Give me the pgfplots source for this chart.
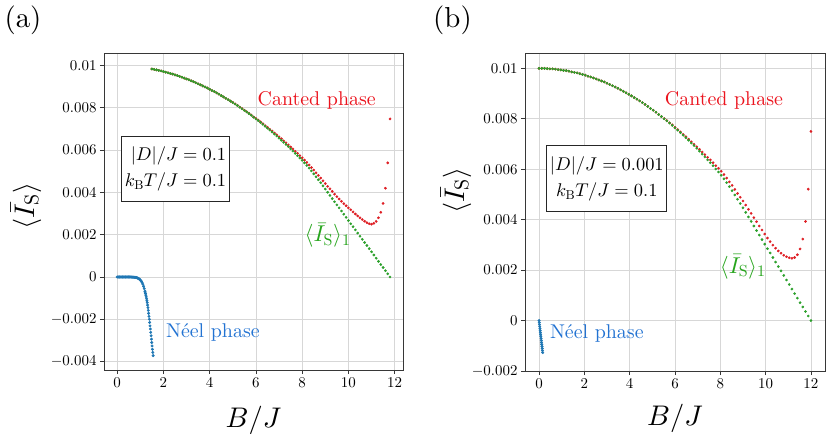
\documentclass[border=0pt]{standalone}
\providecommand\UnicodeFontFile[2]{"[#1]:#2"}
\providecommand\UnicodeFontTeXLigatures{mapping=tex-text;}
\DeclareFontShape{TU}{lmr}{m}{n}{<->\UnicodeFontFile{lmroman10-regular}{\UnicodeFontTeXLigatures}}{}
\DeclareFontFamily{OT1}{cmr}{\hyphenchar\font45 }
\DeclareFontShape{OT1}{cmr}{m}{n}{<->cmr10}{}
\DeclareFontShape{OML}{cmm}{m}{it}{<->cmmi10}{}
\DeclareFontShape{OMS}{cmsy}{m}{n}{<->cmsy10}{}
\DeclareFontShape{OMX}{cmex}{m}{n}{<->cmex10}{}
\usepackage{pgfplots}
\usepackage{pgfplotstable}
\pgfplotsset{compat=1.18}
\definecolor{cred}{RGB}{222,30,36}
\definecolor{tred}{RGB}{235,20,30}
\definecolor{cgreen}{RGB}{44,160,44}
\definecolor{tgreen}{RGB}{40,165,30}
\definecolor{cblue}{RGB}{31,119,180}
\definecolor{tblue}{RGB}{35,115,210}
\definecolor{gridc}{RGB}{215,215,215}
\definecolor{framec}{RGB}{55,55,55}

\pgfplotstableread{
B G R
1.5 0.00984 0.00984
1.6 0.00982 0.00982
1.7 0.00980 0.00980
1.8 0.00977 0.00977
1.9 0.00975 0.00975
2.0 0.00972 0.00972
2.1 0.00969 0.00969
2.2 0.00966 0.00966
2.3 0.00963 0.00963
2.4 0.00960 0.00960
2.5 0.00956 0.00956
2.6 0.00953 0.00953
2.7 0.00949 0.00949
2.8 0.00945 0.00945
2.9 0.00941 0.00941
3.0 0.00937 0.00937
3.1 0.00933 0.00933
3.2 0.00928 0.00928
3.3 0.00924 0.00924
3.4 0.00919 0.00919
3.5 0.00914 0.00914
3.6 0.00909 0.00909
3.7 0.00904 0.00904
3.8 0.00899 0.00899
3.9 0.00894 0.00894
4.0 0.00888 0.00888
4.1 0.00882 0.00882
4.2 0.00877 0.00877
4.3 0.00871 0.00871
4.4 0.00865 0.00865
4.5 0.00858 0.00858
4.6 0.00852 0.00852
4.7 0.00845 0.00845
4.8 0.00839 0.00839
4.9 0.00832 0.00832
5.0 0.00825 0.00826
5.1 0.00818 0.00819
5.2 0.00811 0.00812
5.3 0.00803 0.00804
5.4 0.00796 0.00797
5.5 0.00788 0.00789
5.6 0.00781 0.00782
5.7 0.00773 0.00774
5.8 0.00765 0.00766
5.9 0.00756 0.00757
6.0 0.00748 0.00750
6.1 0.00740 0.00742
6.2 0.00731 0.00734
6.3 0.00722 0.00725
6.4 0.00713 0.00716
6.5 0.00704 0.00708
6.6 0.00695 0.00699
6.7 0.00686 0.00691
6.8 0.00676 0.00681
6.9 0.00667 0.00673
7.0 0.00657 0.00663
7.1 0.00647 0.00654
7.2 0.00637 0.00644
7.3 0.00627 0.00635
7.4 0.00617 0.00625
7.5 0.00606 0.00615
7.6 0.00596 0.00606
7.7 0.00585 0.00595
7.8 0.00574 0.00585
7.9 0.00563 0.00574
8.0 0.00552 0.00564
8.1 0.00540 0.00553
8.2 0.00528 0.00542
8.3 0.00515 0.00530
8.4 0.00502 0.00518
8.5 0.00488 0.00506
8.6 0.00474 0.00493
8.7 0.00460 0.00481
8.8 0.00446 0.00468
8.9 0.00431 0.00455
9.0 0.00416 0.00442
9.1 0.00401 0.00429
9.2 0.00386 0.00417
9.3 0.00371 0.00405
9.4 0.00356 0.00392
9.5 0.00341 0.00380
9.6 0.00327 0.00369
9.7 0.00312 0.00358
9.8 0.00297 0.00347
9.9 0.00282 0.00337
10.0 0.00267 0.00327
10.1 0.00252 0.00318
10.2 0.00238 0.00308
10.3 0.00223 0.00298
10.4 0.00208 0.00289
10.5 0.00193 0.00280
10.6 0.00178 0.00272
10.7 0.00163 0.00264
10.8 0.00149 0.00257
10.9 0.00134 0.00252
11.0 0.00119 0.00250
11.1 0.00104 0.00254
11.2 0.00089 0.00263
11.3 0.00074 0.00280
11.4 0.00059 0.00306
11.5 0.00045 0.00348
11.6 0.00030 0.00420
11.7 0.00015 0.00540
11.8 0.00000 0.00748
}\tabA

\pgfplotstableread{
B Y
0.00 0
0.03 0
0.06 0
0.09 0
0.12 0
0.15 0
0.18 0
0.21 0
0.24 0
0.27 0
0.30 0
0.33 0
0.36 0
0.39 0
0.42 0
0.45 0
0.48 0
0.51 0
0.54 0
0.57 0
0.60 0
0.63 -0.000003
0.66 -0.000005
0.69 -0.000007
0.72 -0.00001
0.75 -0.000013
0.78 -0.000017
0.81 -0.00002
0.84 -0.00003
0.87 -0.00004
0.90 -0.00006
0.93 -0.00008
0.96 -0.0001
0.99 -0.00013
1.02 -0.00017
1.05 -0.00021
1.08 -0.00027
1.11 -0.00034
1.14 -0.00044
1.17 -0.00055
1.20 -0.00067
1.210 -0.00071
1.225 -0.00078
1.240 -0.00086
1.255 -0.00094
1.270 -0.00103
1.285 -0.00112
1.300 -0.00121
1.315 -0.00133
1.330 -0.00145
1.345 -0.00158
1.360 -0.00172
1.375 -0.00186
1.390 -0.00200
1.405 -0.00215
1.420 -0.00231
1.435 -0.00246
1.450 -0.00262
1.465 -0.00278
1.480 -0.00294
1.495 -0.00310
1.510 -0.00326
1.525 -0.00342
1.540 -0.00357
1.555 -0.00372
}\tabNa

\pgfplotstableread{
B G R
0.00 0.01000 0.01000
0.12 0.01000 0.01000
0.24 0.01000 0.01000
0.36 0.00999 0.00999
0.48 0.00998 0.00998
0.60 0.00998 0.00998
0.72 0.00997 0.00997
0.84 0.00995 0.00995
0.96 0.00994 0.00994
1.08 0.00992 0.00992
1.20 0.00991 0.00991
1.32 0.00989 0.00989
1.44 0.00986 0.00986
1.56 0.00984 0.00984
1.68 0.00982 0.00982
1.80 0.00979 0.00979
1.92 0.00976 0.00976
2.04 0.00973 0.00973
2.16 0.00969 0.00969
2.28 0.00966 0.00966
2.40 0.00962 0.00962
2.52 0.00958 0.00958
2.64 0.00954 0.00954
2.76 0.00950 0.00950
2.88 0.00946 0.00946
3.00 0.00941 0.00941
3.12 0.00936 0.00936
3.24 0.00931 0.00931
3.36 0.00926 0.00926
3.48 0.00921 0.00921
3.60 0.00915 0.00915
3.72 0.00909 0.00909
3.84 0.00903 0.00903
3.96 0.00897 0.00897
4.08 0.00891 0.00891
4.20 0.00884 0.00884
4.32 0.00878 0.00878
4.44 0.00871 0.00871
4.56 0.00864 0.00864
4.68 0.00857 0.00857
4.80 0.00849 0.00849
4.92 0.00841 0.00841
5.04 0.00834 0.00834
5.16 0.00826 0.00826
5.28 0.00817 0.00817
5.40 0.00809 0.00809
5.52 0.00800 0.00801
5.64 0.00792 0.00793
5.76 0.00783 0.00784
5.88 0.00774 0.00776
6.00 0.00764 0.00766
6.12 0.00755 0.00757
6.24 0.00745 0.00748
6.36 0.00735 0.00738
6.48 0.00725 0.00729
6.60 0.00715 0.00719
6.72 0.00704 0.00709
6.84 0.00694 0.00699
6.96 0.00683 0.00689
7.08 0.00672 0.00679
7.20 0.00660 0.00668
7.32 0.00649 0.00658
7.44 0.00637 0.00647
7.56 0.00626 0.00637
7.68 0.00614 0.00626
7.80 0.00601 0.00614
7.92 0.00589 0.00604
8.04 0.00576 0.00592
8.16 0.00562 0.00579
8.28 0.00547 0.00565
8.40 0.00531 0.00550
8.52 0.00515 0.00536
8.64 0.00498 0.00520
8.76 0.00481 0.00504
8.88 0.00464 0.00489
9.00 0.00447 0.00474
9.12 0.00429 0.00458
9.24 0.00411 0.00441
9.36 0.00393 0.00425
9.48 0.00375 0.00408
9.60 0.00357 0.00392
9.72 0.00339 0.00375
9.84 0.00321 0.00359
9.96 0.00303 0.00343
10.08 0.00285 0.00327
10.20 0.00268 0.00313
10.32 0.00250 0.00299
10.44 0.00232 0.00287
10.56 0.00214 0.00276
10.68 0.00197 0.00267
10.80 0.00179 0.00259
10.92 0.00161 0.00253
11.04 0.00143 0.00249
11.16 0.00125 0.00247
11.28 0.00107 0.00250
11.40 0.00089 0.00261
11.52 0.00071 0.00284
11.64 0.00054 0.00323
11.76 0.00036 0.00393
11.88 0.00018 0.00521
12.00 0.00000 0.00750
}\tabB

\pgfplotstableread{
B Y
0.00 0
0.01 -0.00008
0.02 -0.00016
0.03 -0.00024
0.04 -0.00032
0.05 -0.00040
0.06 -0.00048
0.07 -0.00056
0.08 -0.00063
0.09 -0.00071
0.10 -0.00079
0.11 -0.00087
0.12 -0.00095
0.13 -0.00103
0.14 -0.00111
0.15 -0.00119
0.16 -0.00127
}\tabNb

\pgfplotsset{
  myaxis/.style={
    scale only axis,
    axis line style={line width=1bp, framec},
    grid=major,
    grid style={line width=0.8bp, gridc},
    tick pos=left,
    tick align=outside,
    major tick length=4bp,
    every tick/.style={line width=0.8bp, framec},
    tick label style={font=\fontsize{15}{18}\selectfont},
    xtick={0,2,4,6,8,10,12},
    scaled y ticks=false,
    clip=false,
    xlabel={$B/J$},
    ylabel={$\langle\bar{I}_{\mathrm{S}}\rangle$},
  },
  dots/.style={only marks, mark=*, mark size=#1, mark options={draw=none}},
}

\begin{document}
\begin{tikzpicture}
\useasboundingbox (0,0) rectangle (830bp,441bp);

\begin{axis}[myaxis,
  at={(104bp,71bp)}, anchor=south west,
  width=299bp, height=316bp,
  xmin=-0.57, xmax=12.36, ymin=-0.0044, ymax=0.01055,
  ytick={-0.004,-0.002,0,0.002,0.004,0.006,0.008,0.01},
  yticklabels={$-0.004$,$-0.002$,$0$,$0.002$,$0.004$,$0.006$,$0.008$,$0.01$},
  xlabel style={at={(axis description cs:0.5,-0.159)}, anchor=center, font=\fontsize{28.5}{30}\selectfont},
  ylabel style={at={(axis description cs:-0.261,0.519)}, anchor=center, font=\fontsize{28.5}{30}\selectfont},
]
\addplot[dots=1.25bp, cblue, fill=cblue] table[x=B,y=Y]{\tabNa};
\addplot[dots=1.15bp, cred, fill=cred] table[x=B,y=R]{\tabA};
\addplot[dots=1.15bp, cgreen, fill=cgreen] table[x=B,y=G]{\tabA};
\node[text=tred, font=\fontsize{20}{24}\selectfont] at (axis cs:8.63,0.00834) {Canted phase};
\node[text=tblue, font=\fontsize{20}{24}\selectfont] at (axis cs:4.14,-0.00261) {Néel phase};
\node[text=tgreen, font=\fontsize{23}{26}\selectfont, inner sep=0pt] at (axis cs:9.1,0.00197) {$\langle\bar{I}_{\mathrm{S}}\rangle_1$};
\node[draw=black!85, line width=1bp, fill=white, align=right, minimum width=107bp, minimum height=65bp, inner sep=3bp, font=\fontsize{18.5}{26}\selectfont] at (axis cs:2.52,0.0051) {$|D|/J = 0.1$\\$k_{\mathrm{B}}T/J = 0.1$};
\end{axis}

\begin{axis}[myaxis,
  at={(525bp,70bp)}, anchor=south west,
  width=300bp, height=317bp,
  xmin=-0.62, xmax=12.62, ymin=-0.002, ymax=0.01057,
  ytick={-0.002,0,0.002,0.004,0.006,0.008,0.01},
  yticklabels={$-0.002$,$0$,$0.002$,$0.004$,$0.006$,$0.008$,$0.01$},
  xlabel style={at={(axis description cs:0.5,-0.151)}, anchor=center, font=\fontsize{28.5}{30}\selectfont},
  ylabel style={at={(axis description cs:-0.23,0.568)}, anchor=center, font=\fontsize{28.5}{30}\selectfont},
]
\addplot[dots=1.3bp, cblue, fill=cblue] table[x=B,y=Y]{\tabNb};
\addplot[dots=1.15bp, cred, fill=cred] table[x=B,y=R]{\tabB};
\addplot[dots=1.15bp, cgreen, fill=cgreen] table[x=B,y=G]{\tabB};
\node[text=tred, font=\fontsize{20}{24}\selectfont] at (axis cs:8.16,0.00871) {Canted phase};
\node[text=tblue, font=\fontsize{20}{24}\selectfont] at (axis cs:2.55,-0.00053) {Néel phase};
\node[text=tgreen, font=\fontsize{23}{26}\selectfont, inner sep=0pt] at (axis cs:8.99,0.00213) {$\langle\bar{I}_{\mathrm{S}}\rangle_1$};
\node[draw=black!85, line width=1bp, fill=white, align=center, minimum width=118bp, minimum height=66bp, inner sep=3bp, font=\fontsize{18.5}{26}\selectfont] at (axis cs:2.99,0.00562) {$|D|/J = 0.001$\\$k_{\mathrm{B}}T/J = 0.1$};
\end{axis}

\node[font=\fontsize{29}{31}\selectfont] at (23bp,421bp) {(a)};
\node[font=\fontsize{29}{31}\selectfont] at (452.5bp,421bp) {(b)};
\end{tikzpicture}
\end{document}
